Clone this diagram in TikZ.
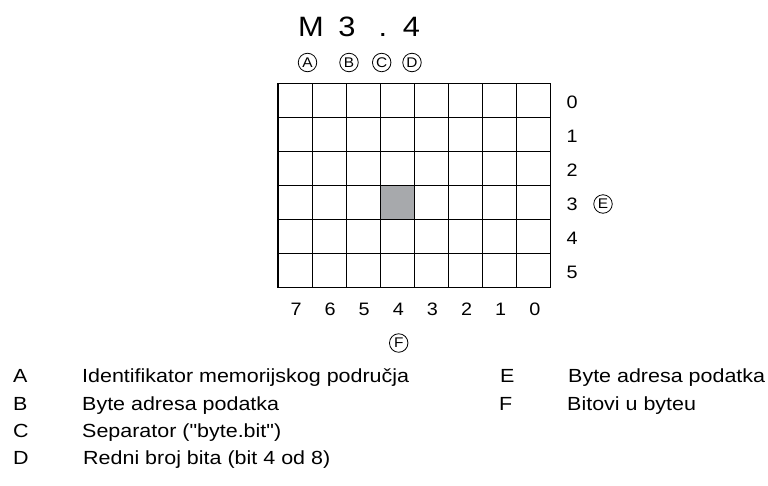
\documentclass[tikz,border=0pt]{standalone}
\usepackage{fontspec}
\setmainfont{Liberation Sans}[FakeStretch=1.1]
\newfontfamily\legfont{Liberation Sans}[FakeStretch=1.13]
\definecolor{cellgray}{HTML}{A7A9AC}
\begin{document}
\begin{tikzpicture}[x=1pt,y=-1pt,
  circ/.style={circle,draw,line width=0.8pt,minimum size=18.5pt,inner sep=0pt,font=\fontsize{14}{14}\selectfont},
  big/.style={anchor=base,inner sep=0pt,font=\fontsize{28}{28}\selectfont},
  lbl/.style={anchor=base,inner sep=0pt,font=\fontsize{18}{18}\selectfont},
  leg/.style={anchor=base west,inner sep=0pt,font=\legfont\fontsize{19}{20}\selectfont},
  gridline/.style={line width=1.1pt,line cap=rect}]
\useasboundingbox (0,0) rectangle (768,485);
% highlighted cell
\fill[cellgray] (380.3,185.5) rectangle (414.4,219.5);
% grid
\foreach \i in {0,...,8} \draw[gridline] (278+\i*34.1,83.5) -- ++(0,204);
\foreach \j in {0,...,6} \draw[gridline] (278,83.5+\j*34) -- ++(272.8,0);
% row labels
\foreach \j in {0,...,5} \node[lbl] (r\j) at (572,{83.5+17+34*\j+7.6}) {\j};
\node[circ] (cE) at (603,204) {E};
% column labels
\foreach \i/\t in {0/7,1/6,2/5,3/4,4/3,5/2,6/1,7/0}
  \node[lbl] (c\t) at ({278+17.05+34.1*\i+1},315) {\t};
\node[circ] (cF) at (398.7,343) {F};
% address
\node[big] (tM) at (311,36.7) {M};
\node[big] (t3) at (347,36.7) {3};
\node[big] (tdot) at (383,36.7) {.};
\node[big] (t4) at (411.5,36.7) {4};
\node[circ] (cA) at (307.5,62.5) {A};
\node[circ] (cB) at (349,62.5) {B};
\node[circ] (cC) at (381.7,62.5) {C};
\node[circ] (cD) at (412,62.5) {D};
% legend
\node[leg] (lA) at (13,382.3) {A};
\node[leg] (tA) at (82,382.3) {Identifikator memorijskog područja};
\node[leg] (lB) at (13,410.5) {B};
\node[leg] (tB) at (82,410.5) {Byte adresa podatka};
\node[leg] (lC) at (13,437.6) {C};
\node[leg] (tC) at (82,437.6) {Separator ({\char34}byte.bit{\char34})};
\node[leg] (lD) at (13,464.4) {D};
\node[leg] (tD) at (83,464.4) {Redni broj bita (bit 4 od 8)};
\node[leg] (lE) at (500,382.3) {E};
\node[leg] (tE) at (568,382.3) {Byte adresa podatka};
\node[leg] (lF) at (499,410.5) {F};
\node[leg] (tF) at (567,410.5) {Bitovi u byteu};
\end{tikzpicture}
\end{document}
